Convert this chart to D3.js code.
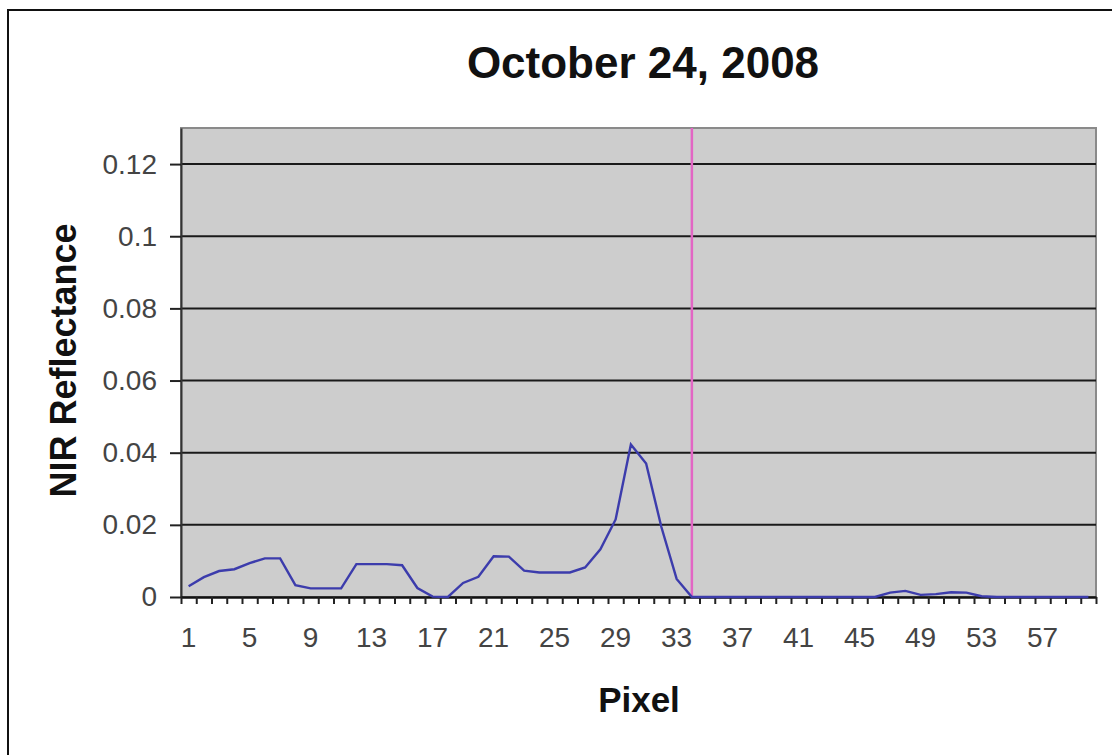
<!DOCTYPE html>
<html>
<head>
<meta charset="utf-8">
<script src="https://cdn.jsdelivr.net/npm/d3@7"></script>
<style>
  body { margin: 0; background: #fff; overflow: hidden; }
  svg text { font-family: "Liberation Sans", Arial, sans-serif; }
</style>
</head>
<body>
<svg id="drawing_region"></svg>
<script>
// pixel index 1..60
const pixels = d3.range(1, 61);
// NIR reflectance
const reflectance = [
    0.003, 0.0055, 0.0072, 0.0077, 0.0094, 0.0107, 0.0107, 0.0033, 0.0024, 0.0024,
    0.0024, 0.0091, 0.0091, 0.0091, 0.0088, 0.0025, 0.0001, 0.0, 0.0039, 0.0056,
    0.0113, 0.0112, 0.0073, 0.0068, 0.0068, 0.0068, 0.0082, 0.0132, 0.0215, 0.0423,
    0.037, 0.0194, 0.005, 0.0, 0.0, 0.0, 0.0, 0.0, 0.0, 0.0,
    0.0, 0.0, 0.0, 0.0, 0.0, 0.0, 0.0012, 0.0017, 0.0006, 0.0008,
    0.0013, 0.0012, 0.0002, 0.0, 0.0, 0.0, 0.0, 0.0, 0.0, 0.0
];
const yTicks = [0, 0.02, 0.04, 0.06, 0.08, 0.1, 0.12];
const xLabels = [1, 5, 9, 13, 17, 21, 25, 29, 33, 37, 41, 45, 49, 53, 57];
const markerPixel = 34;
const titleText = 'October 24, 2008';

const data = pixels.map((p, i) => ({ pixel: p, value: reflectance[i] }));

const config = {
    width: 1112,
    height: 755,
    margin: { top: 128, right: 16, bottom: 158, left: 181 }
};

const svg = d3.select('#drawing_region')
    .attr('width', config.width)
    .attr('height', config.height);

// outer chart frame (runs off the right and bottom of the picture)
svg.append('rect')
    .attr('x', 8).attr('y', 10)
    .attr('width', 1130).attr('height', 780)
    .attr('fill', '#fff')
    .attr('stroke', '#111')
    .attr('stroke-width', 2);

const inner_width = config.width - config.margin.left - config.margin.right;
const inner_height = config.height - config.margin.top - config.margin.bottom;

const chart = svg.append('g')
    .attr('transform', `translate(${config.margin.left}, ${config.margin.top})`);

const xscale = d3.scaleBand()
    .domain(pixels)
    .range([0, inner_width])
    .padding(0);

const xbound = d3.scaleLinear()
    .domain([0, pixels.length])
    .range([0, inner_width]);

const yscale = d3.scaleLinear()
    .domain([0, 0.13])
    .range([inner_height, 0]);

// plot area
chart.append('rect')
    .attr('width', inner_width)
    .attr('height', inner_height)
    .attr('fill', '#cdcdcd')
    .attr('stroke', '#8a8a8a')
    .attr('stroke-width', 2);

// gridlines
chart.append('g')
    .selectAll('line')
    .data(yTicks.filter(d => d > 0))
    .join('line')
    .attr('x1', 0)
    .attr('x2', inner_width)
    .attr('y1', d => yscale(d))
    .attr('y2', d => yscale(d))
    .attr('stroke', '#1a1a1a')
    .attr('stroke-width', 2);

// y axis
const yaxis = d3.axisLeft(yscale)
    .tickValues(yTicks)
    .tickFormat(d => d === 0 ? '0' : String(+d.toFixed(2)))
    .tickSize(11)
    .tickPadding(13)
    .tickSizeOuter(0);

const yaxis_group = chart.append('g').call(yaxis);
yaxis_group.select('.domain').attr('stroke', '#333').attr('stroke-width', 2);
yaxis_group.selectAll('.tick line').attr('stroke', '#222').attr('stroke-width', 2);
yaxis_group.selectAll('.tick text')
    .attr('font-size', 28)
    .attr('fill', '#444')
    .attr('font-family', '"Liberation Sans", Arial, sans-serif');

// x axis: tick marks on category boundaries
const xaxis_ticks = d3.axisBottom(xbound)
    .tickValues(d3.range(0, pixels.length + 1))
    .tickFormat('')
    .tickSize(7)
    .tickSizeOuter(0);

const xtick_group = chart.append('g')
    .attr('transform', `translate(0, ${inner_height})`)
    .call(xaxis_ticks);
xtick_group.select('.domain').attr('stroke', '#111').attr('stroke-width', 2.5);
xtick_group.selectAll('.tick line').attr('stroke', '#222').attr('stroke-width', 2);

// x axis: labels every 4th pixel, centred in the category
const xaxis_labels = d3.axisBottom(xscale)
    .tickValues(xLabels)
    .tickSize(0)
    .tickPadding(30);

const xlabel_group = chart.append('g')
    .attr('transform', `translate(0, ${inner_height})`)
    .call(xaxis_labels);
xlabel_group.select('.domain').remove();
xlabel_group.selectAll('.tick text')
    .attr('font-size', 28)
    .attr('fill', '#444')
    .attr('font-family', '"Liberation Sans", Arial, sans-serif');

// magenta marker line
chart.append('line')
    .attr('x1', xscale(markerPixel) + xscale.bandwidth() / 2)
    .attr('x2', xscale(markerPixel) + xscale.bandwidth() / 2)
    .attr('y1', 0)
    .attr('y2', inner_height)
    .attr('stroke', '#e266c4')
    .attr('stroke-width', 2.5);

// reflectance line
const line = d3.line()
    .x(d => xscale(d.pixel) + xscale.bandwidth() / 2)
    .y(d => yscale(d.value));

chart.append('path')
    .datum(data)
    .attr('d', line)
    .attr('fill', 'none')
    .attr('stroke', '#3c3cac')
    .attr('stroke-width', 2.4);

// title and axis titles
svg.append('text')
    .attr('x', 643)
    .attr('y', 78)
    .attr('text-anchor', 'middle')
    .attr('font-size', 44)
    .attr('font-weight', 'bold')
    .attr('fill', '#111')
    .text(titleText);

svg.append('text')
    .attr('x', 639)
    .attr('y', 712)
    .attr('text-anchor', 'middle')
    .attr('font-size', 35)
    .attr('font-weight', 'bold')
    .attr('fill', '#111')
    .text('Pixel');

svg.append('text')
    .attr('transform', `translate(76, ${config.margin.top + inner_height / 2 - 2}) rotate(-90)`)
    .attr('text-anchor', 'middle')
    .attr('font-size', 36)
    .attr('font-weight', 'bold')
    .attr('fill', '#111')
    .text('NIR Reflectance');
</script>
</body>
</html>
